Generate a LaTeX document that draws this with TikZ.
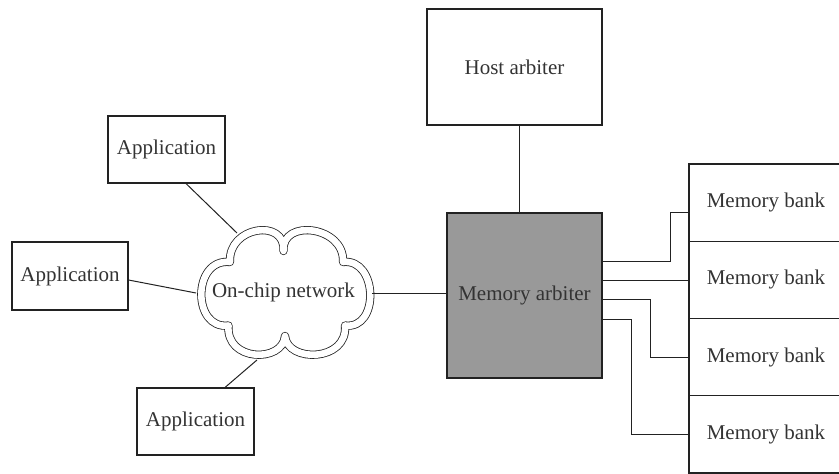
\documentclass[tikz,border=0pt]{standalone}
\usepackage{fontspec}
\setmainfont{Liberation Serif}
\definecolor{txt}{HTML}{333333}
\definecolor{arbfill}{HTML}{999999}
\definecolor{ln}{HTML}{222222}
\begin{document}
\begin{tikzpicture}[x=1pt,y=-1pt,
  lbl/.style={text=txt, font=\fontsize{21}{25}\selectfont},
  box/.style={draw=ln, line width=1.1pt, rectangle, inner sep=0pt, lbl},
  link/.style={draw=ln, line width=1pt},
  cloudline/.style={draw=ln, double=white, double distance=6.6pt, line width=0.8pt, line join=round}]
\clip (0,0) rectangle (839,474);
\path[use as bounding box] (0,0) rectangle (839,474);
% cloud outline
\draw[cloudline] (230,262)
  .. controls (228,226) and (286,218) .. (283.5,251)
  .. controls (281,218) and (345,226) .. (343,262)
  .. controls (378,258) and (380,330) .. (345,325.5)
  .. controls (348,362) and (287,363) .. (285,336)
  .. controls (283,363) and (225.5,362) .. (228.5,325.5)
  .. controls (192,330) and (192,258) .. cycle;
\coordinate (netA) at (237,233);
\coordinate (netB) at (196,293);
\coordinate (netC) at (257,360);
\coordinate (netD) at (372,293);
% nodes
\node[lbl] (net) at (283.5,292) {On-chip network};
\node[box, minimum width=117pt, minimum height=67pt] (app1) at (166.5,149.5) {Application};
\node[box, minimum width=116pt, minimum height=68pt] (app2) at (70,276) {Application};
\node[box, minimum width=117pt, minimum height=67pt] (app3) at (195.5,421.5) {Application};
\node[box, minimum width=175pt, minimum height=116pt] (host) at (514.5,67) {Host arbiter};
\node[box, fill=arbfill, minimum width=155pt, minimum height=165pt] (arb) at (524.5,295.5) {Memory arbiter};
\node[box, minimum width=154pt, minimum height=77.25pt] (b1) at (766,202.6) {Memory bank};
\node[box, minimum width=154pt, minimum height=77.25pt] (b2) at (766,279.9) {Memory bank};
\node[box, minimum width=154pt, minimum height=77.25pt] (b3) at (766,357.1) {Memory bank};
\node[box, minimum width=154pt, minimum height=77.25pt] (b4) at (766,434.4) {Memory bank};
% connectors
\draw[link] ([xshift=19.5pt]app1.south) -- (netA);
\draw[link] ([yshift=-4pt]app2.east) -- (netB);
\draw[link] ([xshift=29.5pt]app3.north) -- (netC);
\draw[link] (netD) -- (netD -| arb.west);
\draw[link] ([xshift=4.5pt]host.south) -- ([xshift=4.5pt]host.south |- arb.north);
\draw[link] ([yshift=34.5pt]arb.east) -- ++(68,0) |- ([yshift=-10pt]b1.west);
\draw[link] ([yshift=15.5pt]arb.east) -- ([yshift=15.5pt]arb.east -| b2.west);
\draw[link] ([yshift=-3.5pt]arb.east) -- ++(48,0) |- (b3.west);
\draw[link] ([yshift=-23.5pt]arb.east) -- ++(29,0) |- (b4.west);
\end{tikzpicture}
\end{document}
